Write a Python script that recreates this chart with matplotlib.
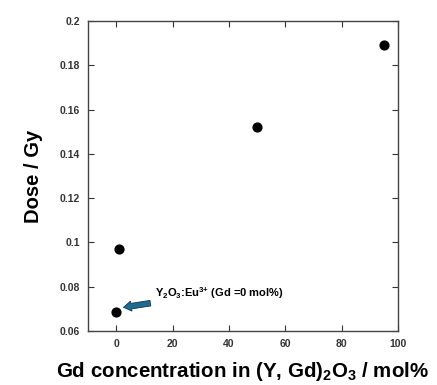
import matplotlib
matplotlib.use("Agg")
import matplotlib.pyplot as plt

gd_conc = [0, 1, 50, 95]
dose = [0.0687, 0.0969, 0.1521, 0.1892]
xticks = [0, 20, 40, 60, 80, 100]
yticks = [0.06, 0.08, 0.1, 0.12, 0.14, 0.16, 0.18, 0.2]
ytick_labels = ["0.06", "0.08", "0.1", "0.12", "0.14", "0.16", "0.18", "0.2"]

plt.rcParams['font.family'] = ['Liberation Sans', 'DejaVu Sans']
plt.rcParams['mathtext.fontset'] = 'custom'
plt.rcParams['mathtext.bf'] = 'Liberation Sans:bold'
plt.rcParams['mathtext.rm'] = 'Liberation Sans:bold'
plt.rcParams['mathtext.default'] = 'bf'

fig = plt.figure(figsize=(4.37, 3.85), dpi=100)
ax = fig.add_axes([88/437, 1 - 331/385, 310/437, 310/385])

ax.scatter(gd_conc, dose, s=40, color='black', zorder=3)

ax.set_xlim(-10, 100)
ax.set_ylim(0.06, 0.2)
ax.set_xticks(xticks)
ax.set_yticks(yticks)
ax.set_yticklabels(ytick_labels)
ax.tick_params(direction='in', top=True, right=True, length=4, width=0.8,
               labelsize=7.5, pad=6, colors='#333333', labelcolor='#333333')
for lab in ax.get_xticklabels() + ax.get_yticklabels():
    lab.set_fontweight('bold')
for sp in ax.spines.values():
    sp.set_linewidth(1.0)
    sp.set_color('#444444')

ax.set_xlabel(r"Gd concentration in (Y, Gd)$_{2}$O$_{3}$ / mol%",
              fontsize=14.8, fontweight='bold', labelpad=8)
ax.set_ylabel("Dose / Gy", fontsize=14.5, fontweight='bold', labelpad=12)

ax.annotate(r"Y$_{2}$O$_{3}$:Eu$^{3{+}}$ (Gd =0 mol%)",
            xy=(2.6, 0.0707), xytext=(13.6, 0.0773),
            fontsize=8, fontweight='bold', va='center', ha='left',
            arrowprops=dict(arrowstyle='simple,head_length=0.7,head_width=0.9,tail_width=0.5',
                            facecolor='#1f6a8f', edgecolor='#0d3550', lw=0.6,
                            shrinkA=1, shrinkB=0))

fig.savefig("out.png", dpi=100)
